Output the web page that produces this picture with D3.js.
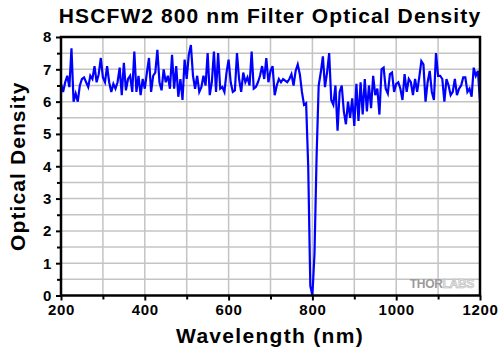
<!DOCTYPE html>
<html>
<head>
<meta charset="utf-8">
<script src="https://cdn.jsdelivr.net/npm/d3@7"></script>
<style>
    body { margin: 0; background: #fff; }
    text { font-family: Arial, "Liberation Sans", sans-serif; }
</style>
</head>
<body>
<div id="chart"></div>
<script>

// wavelength grid: 200 to 1200 nm, 5 nm steps
let wlStart = 200;
let wlStep = 5;

// optical density, one row per 50 nm
let opticalDensity = [
    6.55, 6.3, 6.6, 6.8, 6.45, 7.65, 6.0, 6.25, 6.0, 6.5,      // 200
    6.7, 6.75, 6.6, 6.45, 6.8, 6.7, 7.1, 6.6, 6.85, 7.35,      // 250
    6.75, 6.6, 7.1, 6.6, 6.3, 6.55, 6.4, 6.6, 7.05, 6.2,       // 300
    7.2, 6.35, 6.7, 6.8, 6.3, 7.55, 6.3, 6.8, 6.2, 6.7,        // 350
    6.4, 6.9, 7.35, 6.3, 6.8, 6.9, 7.6, 6.6, 6.35, 7.0,        // 400
    6.6, 6.8, 6.4, 7.45, 6.4, 7.1, 6.15, 6.7, 6.05, 7.3,       // 450
    6.7, 7.45, 7.75, 6.8, 6.4, 6.8, 6.3, 6.45, 6.8, 6.5,       // 500
    7.5, 6.2, 6.6, 7.55, 6.3, 7.5, 6.4, 6.45, 6.3, 6.9,        // 550
    7.3, 6.6, 6.3, 6.35, 7.5, 6.7, 6.3, 6.9, 6.6, 6.75,        // 600
    6.5, 7.55, 6.4, 6.45, 6.6, 6.8, 7.1, 6.7, 7.35, 6.6,       // 650
    6.95, 7.1, 6.2, 6.5, 6.7, 6.6, 6.7, 6.65, 6.6, 6.7,        // 700
    6.85, 6.5, 6.95, 7.15, 6.85, 6.3, 5.9, 5.95, 4.0, 0.3,     // 750
    0.0, 1.3, 4.3, 6.5, 6.9, 7.4, 6.45, 6.9, 7.5, 6.05,        // 800
    5.9, 6.5, 5.1, 6.3, 6.5, 5.7, 5.3, 6.0, 5.5, 6.1,          // 850
    5.25, 6.55, 5.4, 6.6, 5.6, 6.7, 5.7, 6.5, 5.8, 6.8,        // 900
    6.2, 6.4, 5.6, 7.0, 7.05, 6.4, 6.25, 6.85, 6.9, 6.3,       // 950
    6.55, 6.6, 6.4, 6.05, 6.85, 6.3, 6.7, 6.6, 6.2, 6.7,       // 1000
    6.3, 6.75, 7.25, 7.15, 6.0, 6.6, 6.95, 6.3, 6.05, 7.5,     // 1050
    6.8, 6.8, 6.7, 6.0, 6.7, 6.5, 6.2, 6.3, 6.7, 6.2,          // 1100
    6.4, 6.5, 6.75, 6.75, 6.3, 6.4, 6.15, 7.05, 6.8, 6.95,     // 1150
    6.0                                                        // 1200
];

let xTicks = [200, 400, 600, 800, 1000, 1200];
let yTicks = [0, 1, 2, 3, 4, 5, 6, 7, 8];

let data = opticalDensity.map((v, i) => ({wl: wlStart + i * wlStep, od: v}));

let width = 500, height = 350;
let margin = {top: 37, right: 20, bottom: 54.5, left: 61};

let svg = d3.select("#chart").append("svg")
    .attr("width", width)
    .attr("height", height);

let x = d3.scaleLinear()
    .domain([200, 1200])
    .range([margin.left, width - margin.right]);

let y = d3.scaleLinear()
    .domain([0, 8])
    .range([height - margin.bottom, margin.top]);

// grid
svg.append("g")
    .selectAll("line")
    .data(d3.range(300, 1200, 100))
    .enter().append("line")
    .attr("x1", d => x(d)).attr("x2", d => x(d))
    .attr("y1", y(0)).attr("y2", y(8))
    .attr("stroke", "#c4c4c4")
    .attr("stroke-width", 1.5);

svg.append("g")
    .selectAll("line")
    .data(d3.range(0.5, 8, 0.5))
    .enter().append("line")
    .attr("x1", x(200)).attr("x2", x(1200))
    .attr("y1", d => y(d)).attr("y2", d => y(d))
    .attr("stroke", "#c4c4c4")
    .attr("stroke-width", 1.5);

// watermark
let mark = svg.append("text")
    .attr("x", x(1200) - 6)
    .attr("y", y(0) - 8)
    .attr("text-anchor", "end")
    .style("font-size", "12px")
    .style("font-weight", "bold")
    .style("letter-spacing", "-0.3px");
mark.append("tspan").attr("fill", "#9a9a9a").text("THOR");
mark.append("tspan").attr("fill", "#e6e6e6").attr("stroke", "#b0b0b0").attr("stroke-width", 0.5).text("LABS");

// data line
let line = d3.line()
    .x(d => x(d.wl))
    .y(d => y(d.od));

svg.append("path")
    .datum(data)
    .attr("d", line)
    .attr("fill", "none")
    .attr("stroke", "#0000ff")
    .attr("stroke-width", 2.2)
    .attr("stroke-linejoin", "miter");

// frame
svg.append("rect")
    .attr("x", x(200)).attr("y", y(8))
    .attr("width", x(1200) - x(200))
    .attr("height", y(0) - y(8))
    .attr("fill", "none")
    .attr("stroke", "#000")
    .attr("stroke-width", 2.5);

// x axis
let xAxis = d3.axisBottom(x)
    .tickValues(xTicks)
    .tickFormat(d3.format("d"))
    .tickSize(5)
    .tickPadding(4);

let gx = svg.append("g")
    .attr("transform", `translate(0,${y(0)})`)
    .call(xAxis);

svg.append("g")
    .attr("transform", `translate(0,${y(0)})`)
    .call(d3.axisBottom(x).tickValues(d3.range(300, 1200, 200)).tickSize(4).tickFormat(""))
    .call(g => g.select(".domain").remove())
    .selectAll("line").attr("stroke-width", 2);

// y axis
let yAxis = d3.axisLeft(y)
    .tickValues(yTicks)
    .tickSize(5)
    .tickPadding(4);

let gy = svg.append("g")
    .attr("transform", `translate(${x(200)},0)`)
    .call(yAxis);

svg.append("g")
    .attr("transform", `translate(${x(200)},0)`)
    .call(d3.axisLeft(y).tickValues(d3.range(0.5, 8, 1)).tickSize(4).tickFormat(""))
    .call(g => g.select(".domain").remove())
    .selectAll("line").attr("stroke-width", 2);

[gx, gy].forEach(g => {
    g.select(".domain").remove();
    g.selectAll(".tick line").attr("stroke-width", 2);
    g.selectAll(".tick text")
        .style("font-size", "15px")
        .style("font-weight", "bold")
        .style("letter-spacing", "0.7px")
        .attr("fill", "#000");
});

// titles
svg.append("text")
    .attr("x", 270)
    .attr("y", 23)
    .attr("text-anchor", "middle")
    .style("font-size", "21px")
    .style("font-weight", "bold")
    .style("letter-spacing", "1.1px")
    .text("HSCFW2 800 nm Filter Optical Density");

svg.append("text")
    .attr("x", 270)
    .attr("y", 343)
    .attr("text-anchor", "middle")
    .style("font-size", "21px")
    .style("font-weight", "bold")
    .style("letter-spacing", "1.3px")
    .text("Wavelength (nm)");

svg.append("text")
    .attr("transform", `translate(25,${(y(0) + y(8)) / 2}) rotate(-90)`)
    .attr("text-anchor", "middle")
    .style("font-size", "21px")
    .style("font-weight", "bold")
    .style("letter-spacing", "1.1px")
    .text("Optical Density");

</script>
</body>
</html>
